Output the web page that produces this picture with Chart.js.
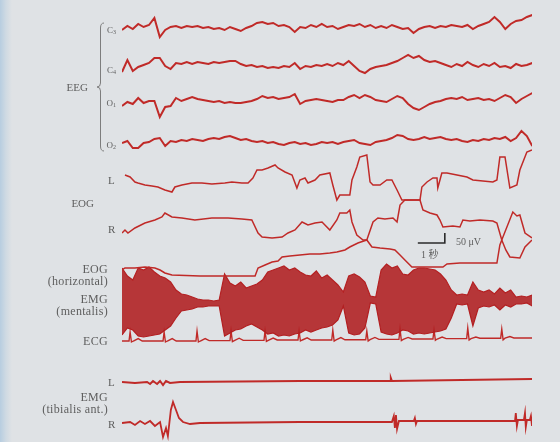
<!DOCTYPE html>
<html>
<head>
<meta charset="utf-8">
<script src="https://cdn.jsdelivr.net/npm/chart.js@4.4.1/dist/chart.umd.min.js"></script>
<style>
  html, body { margin: 0; padding: 0; }
  body { width: 560px; height: 442px; overflow: hidden; background: #dfe2e5; }
  #wrap {
    position: relative; width: 560px; height: 442px;
    background: linear-gradient(to right, #b7cde0 0px, #cfdae3 6px, #dfe2e5 12px);
  }
  #trace { position: absolute; left: 0; top: 0; }
  .lbl {
    position: absolute; font-family: "Liberation Serif", "DejaVu Serif", serif;
    color: #5e5e5e; line-height: 1; white-space: nowrap;
  }
  .r { text-align: right; }
  .ch { font-size: 9px; right: 444px; }
  .ch sub { font-size: 6px; vertical-align: -1px; }
  .big { font-size: 12px; letter-spacing: 0.3px; right: 452px; }
  .side { font-size: 11px; left: 108px; }
</style>
</head>
<body>
<div id="wrap">
  <canvas id="trace" width="560" height="442"></canvas>

  <div class="lbl ch r" style="top:26px">C<sub>3</sub></div>
  <div class="lbl ch r" style="top:66px">C<sub>4</sub></div>
  <div class="lbl ch r" style="top:99px">O<sub>1</sub></div>
  <div class="lbl ch r" style="top:141px">O<sub>2</sub></div>
  <div class="lbl r" style="top:82px; right:472px; font-size:11px">EEG</div>

  <div class="lbl side" style="top:175px">L</div>
  <div class="lbl r" style="top:198px; right:466px; font-size:11px">EOG</div>
  <div class="lbl side" style="top:224px">R</div>

  <div class="lbl big r" style="top:263px">EOG</div>
  <div class="lbl big r" style="top:275px">(horizontal)</div>
  <div class="lbl big r" style="top:293px">EMG</div>
  <div class="lbl big r" style="top:305px">(mentalis)</div>
  <div class="lbl big r" style="top:335px">ECG</div>

  <div class="lbl side" style="top:377px">L</div>
  <div class="lbl big r" style="top:391px">EMG</div>
  <div class="lbl big r" style="top:403px">(tibialis ant.)</div>
  <div class="lbl side" style="top:419px">R</div>

  <div class="lbl" style="top:237px; left:456px; font-size:10px">50 &mu;V</div>
  <div class="lbl" style="top:250px; left:421px; font-size:10px; font-family:'Liberation Serif','Noto Sans CJK JP',serif">1 秒</div>
</div>

<script>
// ===== DATA =====
// EEG channels: one sample every 0.2 s, amplitude in μV (up = positive)
const SAMPLE_DT = 0.2;
const T_END = 15.19;

const eegC3 = [-10, 10, -5, 20, 5, 15, 50, -45, -10, 5, 10, 0, 10, 5, 10, 0, 5, -5, 0, -10,
    5, -5, -15, 0, 10, 25, 30, 20, 25, 10, 15, 5, -20, 5, 0, 15, 5, 20, 5, 10,
    -5, 5, 15, 10, 20, 5, 15, 0, 10, 0, 15, 5, -5, 0, -25, -5, 5, 10, 0, 10,
    5, 15, 10, 5, 15, -5, 10, 20, 30, 55, 30, -5, 20, 35, 40, 55, 65];
const eegC4 = [-20, 40, -15, 5, 15, 25, 50, 50, 10, -5, 25, 20, 30, 20, 30, 25, 20, 30, 25, 30,
    35, 35, 20, 10, 15, 5, 10, 0, 5, 0, 10, 5, 25, -5, 10, 5, 15, 10, 20, 10,
    25, 15, 35, 10, -15, -25, -5, 5, 10, 15, 25, 35, 50, 65, 50, 60, 40, 30, 35, 25,
    15, 5, 20, 10, 30, 15, 5, 20, 10, 25, 5, 10, 0, 20, 10, 15, 25];
const eegO1 = [-30, -10, -20, 10, -15, -5, -5, -85, -35, -30, 10, -5, 5, 15, 5, 0, -5, -10, -5, -15,
    -10, -15, -15, -10, -5, 5, 20, 10, 15, 5, 10, 15, 30, -20, -5, 0, 5, 0, -5, -10,
    0, 0, 15, 25, 10, 25, 15, 0, -5, -10, 5, 20, 10, -20, -40, -50, -35, -20, -10, -5,
    5, 10, 5, 15, 0, 5, 10, 0, 5, -5, 10, 25, 15, -15, 5, 20, 35];
const eegO2 = [-5, 5, -30, -30, -5, 0, 15, 20, -20, 5, 0, 10, 5, 15, 10, 5, 15, 20, 15, 25,
    30, 20, 10, 15, 5, 0, 5, -5, 0, -10, -15, -5, 0, -10, -5, -15, -10, 0, -5, 0,
    -10, 0, 5, 10, -5, -10, -15, 0, 5, 10, 20, 35, 30, 15, 10, 15, 25, 15, 20, 25,
    15, 10, 15, 5, 0, 10, 5, 15, 10, 20, 15, 25, 5, 20, 55, 30, -20];

// EOG channels: [time s, μV]
const eogL = [[0.11, 5], [0.30, -5], [0.48, -30], [0.59, -35], [0.85, -45], [1.11, -50], [1.33, -55],
    [1.59, -70], [1.85, -80], [1.96, -55], [2.22, -45], [2.59, -35], [2.96, -35], [3.33, -40],
    [3.81, -35], [4.07, -30], [4.44, -35], [4.67, -35], [4.85, -10], [5.00, 30], [5.19, 30],
    [5.41, 40], [5.67, 55], [5.78, 40], [6.04, 20], [6.30, 5], [6.48, -60], [6.59, -20],
    [6.78, -10], [6.89, -35], [7.15, -20], [7.33, 5], [7.70, 15], [7.81, -45], [7.96, -120],
    [8.07, -95], [8.44, -95], [8.52, -20], [8.70, 45], [8.81, 95], [9.07, 105], [9.19, -30],
    [9.30, -45], [9.56, -45], [9.81, -20], [10.00, -20], [10.19, -70], [10.37, -120], [11.04, -120],
    [11.11, -55], [11.30, -30], [11.52, -10], [11.67, -10], [11.70, -60], [11.85, 15], [12.04, 15],
    [12.78, -5], [13.00, -20], [13.74, -30], [13.89, -20], [14.00, 95], [14.19, 95], [14.37, -60],
    [14.63, -45], [14.74, 30], [15.00, 120], [15.19, 130]];
const eogR = [[0, -25], [0.11, -10], [0.22, -25], [0.48, 0], [0.85, 25], [1.22, 40], [1.48, 55],
    [1.59, 75], [1.85, 55], [2.22, 50], [2.70, 40], [3.33, 50], [3.93, 50], [4.44, 45], [4.81, 40],
    [5.04, -25], [5.19, -45], [5.56, -50], [5.93, -45], [6.15, -25], [6.41, -10], [6.67, 30],
    [6.89, 15], [7.15, 25], [7.41, 30], [7.70, -10], [7.96, 40], [8.07, 75], [8.33, 75], [8.44, 90],
    [8.52, 30], [8.70, -35], [8.93, -60], [9.07, -60], [9.30, 30], [9.48, 50], [9.74, 45],
    [10.04, 50], [10.19, 30], [10.30, 115], [10.48, 140], [11.04, 140], [11.15, 90], [11.41, 75],
    [11.67, 65], [11.78, 40], [11.89, 5], [12.26, 10], [12.52, 5], [12.63, 40], [12.89, 35],
    [13.26, 40], [13.74, 35], [13.89, 25], [14.07, -60], [14.48, 80], [14.63, 60], [14.74, 65],
    [14.93, -25], [15.19, -50]];
const eogH = [[0, 0], [0.11, 10], [0.48, 10], [0.85, 15], [1.22, 10], [1.41, 0], [1.59, -15],
    [1.85, -25], [2.89, -30], [4.00, -30], [4.93, -30], [5.04, 10], [5.30, 25], [5.56, 40],
    [5.78, 45], [5.93, 65], [6.22, 70], [6.59, 75], [6.96, 80], [7.33, 80], [7.70, 85], [7.96, 90],
    [8.26, 100], [8.44, 115], [8.74, 135], [9.07, 150], [9.26, 115], [9.56, 110], [9.93, 105],
    [10.11, 100], [10.30, 75], [10.48, 50], [10.74, 15], [11.41, 15], [11.89, 15], [12.04, 30],
    [12.52, 35], [13.26, 35], [13.89, 35], [14.00, 125], [14.07, 150], [14.22, 100], [14.37, 65],
    [14.74, 60], [14.93, 115], [15.19, 150]];

// EMG (mentalis): burst envelope every 0.2 s, μV
const emgTop = [170, 130, 110, 170, 160, 175, 150, 130, 120, 100, 60, 40, 35, 25, 15, 10, 10, 5, 10, 140,
    95, 80, 100, 70, 80, 90, 110, 150, 160, 170, 180, 160, 170, 150, 135, 130, 155, 120, 135, 110,
    85, 50, 130, 140, 125, 100, 30, 25, 160, 190, 170, 180, 140, 135, 160, 170, 170, 165, 160, 140,
    110, 60, 35, 40, 35, 100, 60, 50, 60, 40, 70, 45, 60, 25, 30, 25, 35];
const emgBottom = [-165, -130, -140, -170, -175, -170, -165, -160, -140, -120, -80, -45, -40, -35, -25, -25, -20, -20, -20, -170,
    -155, -140, -135, -120, -110, -125, -140, -160, -155, -170, -165, -170, -160, -155, -140, -150, -140, -130, -125, -115,
    -90, -20, -155, -165, -160, -130, -5, -10, -150, -160, -165, -155, -140, -145, -160, -155, -160, -155, -150, -145,
    -135, -80, -10, -15, -10, -120, -30, -20, -25, -15, -40, -15, -25, -10, -10, -5, -20];

// ECG: [time s, μV]
const ecg = [[0, 0], [0.26, 0], [0.30, 45], [0.35, -5], [0.42, 0], [0.60, 12], [0.75, 0],
    [1.52, 0], [1.56, 45], [1.61, -5], [1.68, 0], [1.86, 12], [2.01, 0],
    [2.74, 0], [2.78, 50], [2.83, -5], [2.90, 0], [3.08, 12], [3.23, 2],
    [4.00, 2], [4.04, 50], [4.09, -3], [4.16, 2], [4.34, 14], [4.49, 3],
    [5.26, 3], [5.30, 50], [5.35, -2], [5.42, 3], [5.60, 15], [5.75, 5],
    [6.52, 5], [6.56, 50], [6.61, 0], [6.68, 5], [6.86, 16], [7.01, 5],
    [7.77, 5], [7.81, 55], [7.86, 0], [7.93, 6], [8.11, 17], [8.26, 6],
    [9.03, 6], [9.07, 50], [9.12, 0], [9.19, 7], [9.37, 18], [9.52, 8],
    [10.26, 8], [10.30, 60], [10.35, 2], [10.42, 8], [10.60, 18], [10.75, 10],
    [11.52, 10], [11.56, 55], [11.61, 4], [11.68, 10], [11.86, 20], [12.01, 12],
    [12.77, 12], [12.81, 65], [12.86, 5], [12.93, 12], [13.11, 20], [13.26, 14],
    [14.03, 14], [14.07, 60], [14.12, 6], [14.19, 14], [14.37, 22], [14.52, 15], [15.19, 15]];

// EMG (tibialis ant.): [time s, μV]
const tibL = [[0, 0], [0.48, -5], [0.93, 0], [1.04, -10], [1.15, 5], [1.30, -10], [1.41, 5],
    [1.52, -15], [1.63, 5], [1.78, -5], [2.15, 0], [6.59, 5], [9.93, 5], [9.96, 20], [10.00, 5],
    [15.19, 15]];
const tibR = [[0, 0], [0.30, 5], [0.48, -10], [0.67, 10], [0.85, -5], [1.04, 10], [1.22, -15],
    [1.41, 5], [1.52, -70], [1.63, -25], [1.70, -65], [1.81, 65], [1.89, 105], [2.00, 65],
    [2.11, 25], [2.26, 5], [2.52, -5], [2.89, 0], [6.59, 5], [10.00, 5], [10.07, 35], [10.11, -25],
    [10.15, 40], [10.19, -30], [10.26, 10], [10.81, 10], [10.85, 25], [10.89, -5], [10.93, 10],
    [14.56, 10], [14.59, 50], [14.63, -15], [14.67, 15], [14.89, 15], [14.93, 50], [14.96, -20],
    [15.00, 15], [15.11, 15], [15.15, 35], [15.19, -15]];

// ===== LAYOUT =====
// channel baselines, μV down from the top of the stack
const OFFSET = { C3: 140, C4: 340, O1: 500, O2: 710, EOG_L: 880, EOG_R: 1140, EOG_H: 1350,
    EMG: 1510, ECG: 1705, TIB_L: 1910, TIB_R: 2115 };
const Y_RANGE = 2210;
const RED = '#c02a28';

function sampled(values, offset) {
    return values.map((v, i) => ({ x: i * SAMPLE_DT, y: offset - v }));
}

function paired(pairs, offset) {
    return pairs.map(([t, v]) => ({ x: t, y: offset - v }));
}

function trace(data, width) {
    return { data: data, borderColor: RED, borderWidth: width, pointRadius: 0, tension: 0, fill: false };
}

// bracket round the EEG labels
const bracket = {
    id: 'bracket',
    afterDraw(chart) {
        const ctx = chart.ctx;
        ctx.save();
        ctx.strokeStyle = '#7d7d7d';
        ctx.lineWidth = 1;
        ctx.beginPath();
        ctx.moveTo(104, 23);
        ctx.quadraticCurveTo(100.5, 23, 100.5, 28);
        ctx.lineTo(100.5, 83);
        ctx.quadraticCurveTo(100.5, 87, 97, 87);
        ctx.quadraticCurveTo(100.5, 87, 100.5, 91);
        ctx.lineTo(100.5, 146);
        ctx.quadraticCurveTo(100.5, 151, 104, 151);
        ctx.stroke();
        ctx.restore();
    }
};

// 1 s / 50 μV calibration mark, drawn through the scales
const scaleBar = {
    id: 'scaleBar',
    afterDraw(chart) {
        const { ctx, scales } = chart;
        const t0 = 10.96, yRef = 1215;
        const x0 = scales.x.getPixelForValue(t0);
        const x1 = scales.x.getPixelForValue(t0 + 1);
        const y0 = scales.y.getPixelForValue(yRef);
        const y1 = scales.y.getPixelForValue(yRef - 50);
        ctx.save();
        ctx.strokeStyle = '#2b2b2b';
        ctx.lineWidth = 1.6;
        ctx.beginPath();
        ctx.moveTo(x0, y0);
        ctx.lineTo(x1, y0);
        ctx.lineTo(x1, y1);
        ctx.stroke();
        ctx.restore();
    }
};

new Chart(document.getElementById('trace'), {
    type: 'line',
    data: {
        datasets: [
            trace(sampled(eegC3, OFFSET.C3), 2),
            trace(sampled(eegC4, OFFSET.C4), 2),
            trace(sampled(eegO1, OFFSET.O1), 2),
            trace(sampled(eegO2, OFFSET.O2), 2),
            trace(paired(eogL, OFFSET.EOG_L), 1.5),
            trace(paired(eogR, OFFSET.EOG_R), 1.5),
            trace(paired(eogH, OFFSET.EOG_H), 1.5),
            {
                data: sampled(emgTop, OFFSET.EMG), borderColor: '#b42022', borderWidth: 1.2,
                backgroundColor: 'rgba(176, 30, 32, 0.88)', pointRadius: 0, tension: 0, fill: '+1'
            },
            {
                data: sampled(emgBottom, OFFSET.EMG), borderColor: '#b42022', borderWidth: 1.2,
                pointRadius: 0, tension: 0, fill: false
            },
            trace(paired(ecg, OFFSET.ECG), 1.4),
            trace(paired(tibL, OFFSET.TIB_L), 2),
            trace(paired(tibR, OFFSET.TIB_R), 1.8)
        ]
    },
    options: {
        responsive: false,
        animation: false,
        layout: { padding: { left: 122, right: 28, top: 0, bottom: 0 } },
        scales: {
            x: { type: 'linear', min: 0, max: T_END, display: false },
            y: { type: 'linear', min: 0, max: Y_RANGE, reverse: true, display: false }
        },
        plugins: {
            legend: { display: false },
            tooltip: { enabled: false }
        }
    },
    plugins: [bracket, scaleBar]
});
</script>
</body>
</html>
